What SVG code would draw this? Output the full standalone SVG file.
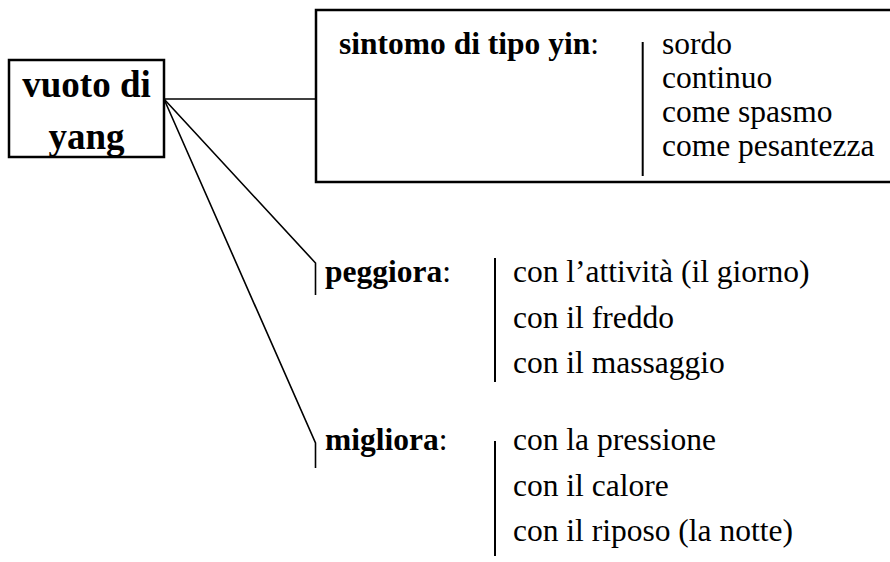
<svg xmlns="http://www.w3.org/2000/svg" width="890" height="562" viewBox="0 0 890 562">
<style>
text{font-family:"Liberation Serif","Times New Roman",serif;font-size:31.5px;font-weight:normal;fill:#000}
.b{font-weight:bold}
.big{font-size:37px;font-weight:bold}
.ln{stroke:#000;stroke-width:1.6;fill:none}
.box{stroke:#000;stroke-width:2.5;fill:#fff}
.sep{stroke:#000;stroke-width:2;fill:none}
</style>
<rect width="890" height="562" fill="#fff"/>
<g id="connectors">
<line class="ln" x1="164" y1="99" x2="316" y2="99"/>
<polyline class="ln" points="164,99 315.5,263 315.5,295"/>
<polyline class="ln" points="164,99 315.5,443 315.5,468"/>
</g>
<g id="vuoto">
<rect class="box" x="9" y="60" width="155" height="97"/>
<text class="big" x="86.5" y="97" text-anchor="middle">vuoto di</text>
<text class="big" x="86.5" y="149" text-anchor="middle">yang</text>
</g>
<g id="sintomo">
<rect class="box" x="316" y="10" width="590" height="172"/>
<text x="339" y="54"><tspan class="b">sintomo di tipo yin</tspan>:</text>
<line class="sep" x1="642.7" y1="42" x2="642.7" y2="176"/>
<text x="662" y="54">sordo</text>
<text x="662" y="88">continuo</text>
<text x="662" y="122">come spasmo</text>
<text x="662" y="156">come pesantezza</text>
</g>
<g id="peggiora">
<text x="325" y="282"><tspan class="b">peggiora</tspan>:</text>
<line class="sep" x1="495" y1="258" x2="495" y2="382"/>
<text x="513" y="282">con l’attività (il giorno)</text>
<text x="513" y="327.5">con il freddo</text>
<text x="513" y="373">con il massaggio</text>
</g>
<g id="migliora">
<text x="325" y="450"><tspan class="b">migliora</tspan>:</text>
<line class="sep" x1="495" y1="441" x2="495" y2="556"/>
<text x="513" y="450">con la pressione</text>
<text x="513" y="495.5">con il calore</text>
<text x="513" y="541">con il riposo (la notte)</text>
</g>
</svg>
